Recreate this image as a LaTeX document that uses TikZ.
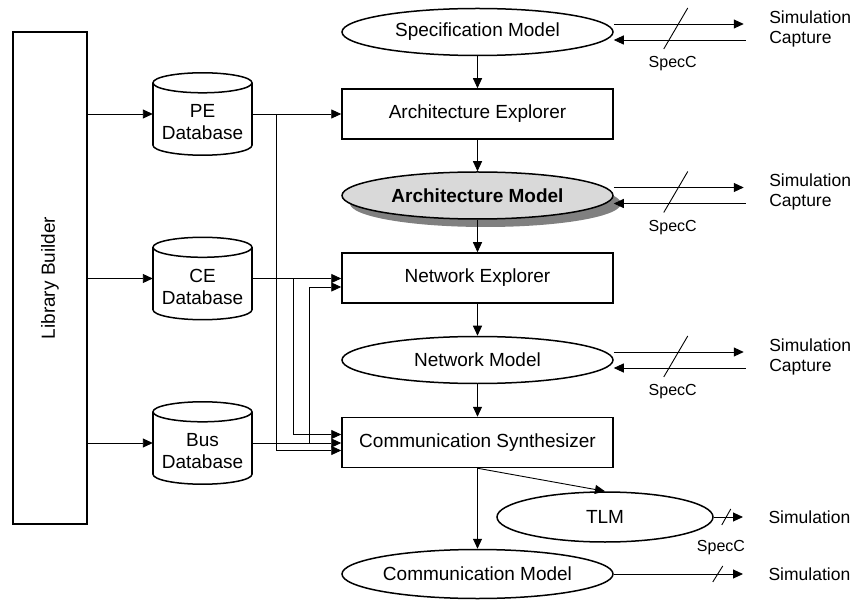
\documentclass[tikz,border=0pt]{standalone}
\usepackage{fontspec}
\setmainfont{Liberation Sans}
\usetikzlibrary{shapes.geometric,arrows.meta,calc,shadows}
\begin{document}
\begin{tikzpicture}[x=1pt,y=-1pt,
  bigfont/.style={font=\fontsize{19}{22}\selectfont},
  sidefont/.style={font=\fontsize{17.5}{20}\selectfont},
  smallfont/.style={font=\fontsize{16}{18}\selectfont},
  boxline/.style={line width=1.5pt},
  procbox/.style={draw, boxline, rectangle, minimum width=271pt, minimum height=50pt, inner sep=0pt, bigfont},
  model/.style={draw, boxline, ellipse, minimum width=271pt, minimum height=47pt, inner sep=0pt, bigfont},
  dbnode/.style={rectangle, minimum width=99pt, minimum height=82pt, inner sep=0pt},
  conn/.style={line width=0.9pt},
  arr/.style={conn, -{Triangle[length=10pt,width=9pt]}},
  slashline/.style={line width=0.9pt},
]
\useasboundingbox (0,0) rectangle (856,601);

% Library builder
\node[draw, boxline, minimum width=74pt, minimum height=492pt, inner sep=0pt] (lib) at (50,278) {};
\node[bigfont, rotate=90] (libt) at (lib.center) {Library Builder};

% databases
\node[dbnode] (pe) at (202.5,114) {};
\node[dbnode] (ce) at (202.5,278.5) {};
\node[dbnode] (bus) at (202.5,443) {};
\foreach \n in {pe,ce,bus}{
  \draw[boxline] ($(\n.south)+(0,-10)$) ellipse [x radius=49.5pt, y radius=10pt];
  \fill[white] ($(\n.north west)+(0,10)$) rectangle ($(\n.south east)+(0,-10)$);
  \draw[boxline] ($(\n.north west)+(0,10)$) -- ($(\n.south west)+(0,-10)$);
  \draw[boxline] ($(\n.north east)+(0,10)$) -- ($(\n.south east)+(0,-10)$);
  \draw[boxline, fill=white] ($(\n.north)+(0,10)$) ellipse [x radius=49.5pt, y radius=10pt];
}
\node[bigfont, align=center] (pet) at ($(pe.center)+(0,8)$) {PE\\Database};
\node[bigfont, align=center] (cet) at ($(ce.center)+(0,8)$) {CE\\Database};
\node[bigfont, align=center] (bust) at ($(bus.center)+(0,8)$) {Bus\\Database};

% main column
\node[model] (spec) at (477.5,32) {Specification Model};
\node[procbox] (ae) at (477.5,114) {Architecture Explorer};
\node[model, fill=black!15, font=\fontsize{19}{22}\selectfont\bfseries,
      drop shadow={shadow xshift=8pt, shadow yshift=-8pt, fill=black!50, opacity=1}] (arch) at (477.5,195.5) {Architecture Model};
\node[procbox] (ne) at (477.5,278) {Network Explorer};
\node[model] (nm) at (477.5,360) {Network Model};
\node[procbox] (cs) at (477.5,442.5) {Communication Synthesizer};
\node[model, minimum width=216pt, minimum height=50pt] (tlm) at (605,517) {TLM};
\node[model, minimum height=49pt] (cm) at (477.5,574) {Communication Model};

% library builder to databases
\draw[arr] (lib.east |- pe.center) -- (pe.west);
\draw[arr] (lib.east |- ce.center) -- (ce.west);
\draw[arr] (lib.east |- bus.center) -- (bus.west);

% databases to tools
\coordinate (j1) at (276,114);
\coordinate (j2) at (293,278.5);
\coordinate (j3) at (309,443);
\draw[arr] (pe.east) -- (pe.east -| ae.west);
\draw[arr] (j1) |- ($(cs.west)+(0,8)$);
\draw[arr] (ce.east) -- (ce.east -| ne.west);
\draw[arr] (j2) |- ($(cs.west)+(0,-8)$);
\draw[arr] (bus.east) -- (bus.east -| cs.west);
\draw[arr] (j3) |- ($(ne.west)+(0,9)$);

% vertical flow
\draw[arr] (spec.south) -- (ae.north);
\draw[arr] (ae.south) -- (arch.north);
\draw[arr] (arch.south) -- (ne.north);
\draw[arr] (ne.south) -- (nm.north);
\draw[arr] (nm.south) -- (cs.north);
\draw[arr] (cs.south) -- (cm.north);
\draw[arr] (cs.south) -- (tlm.north);

% side interfaces (simulation / capture)
\foreach \m in {spec,arch,nm}{
  \coordinate (\m-out) at ($(\m.east)+(130,-8)$);
  \coordinate (\m-in) at ($(\m.east)+(132,8)$);
  \draw[arr] ($(\m.east)+(0,-8)$) -- (\m-out);
  \draw[arr] (\m-in) -- ($(\m.east)+(0,8)$);
  \draw[slashline] ($(\m.east)+(74,-24)$) -- ($(\m.east)+(50,17)$);
  \node[smallfont] (\m-lang) at ($(\m.east)+(59,32)$) {SpecC};
  \node[sidefont, align=left, anchor=west] (\m-sim) at ($(\m.east)+(152,-3.5)$) {Simulation\\Capture};
}

\coordinate (tlm-out) at (743,517);
\draw[arr] (tlm.east) -- (tlm-out);
\draw[slashline] ($(tlm.east)+(17,-8)$) -- ($(tlm.east)+(8,8)$);
\node[sidefont, anchor=west] (tlm-sim) at (765,517) {Simulation};
\node[smallfont] (tlm-lang) at (721,548) {SpecC};

\coordinate (cm-out) at (743,574);
\draw[arr] (cm.east) -- (cm-out);
\draw[slashline] ($(cm.east)+(109,-8)$) -- ($(cm.east)+(99,8)$);
\node[sidefont, anchor=west] (cm-sim) at (765,574) {Simulation};
\end{tikzpicture}
\end{document}
